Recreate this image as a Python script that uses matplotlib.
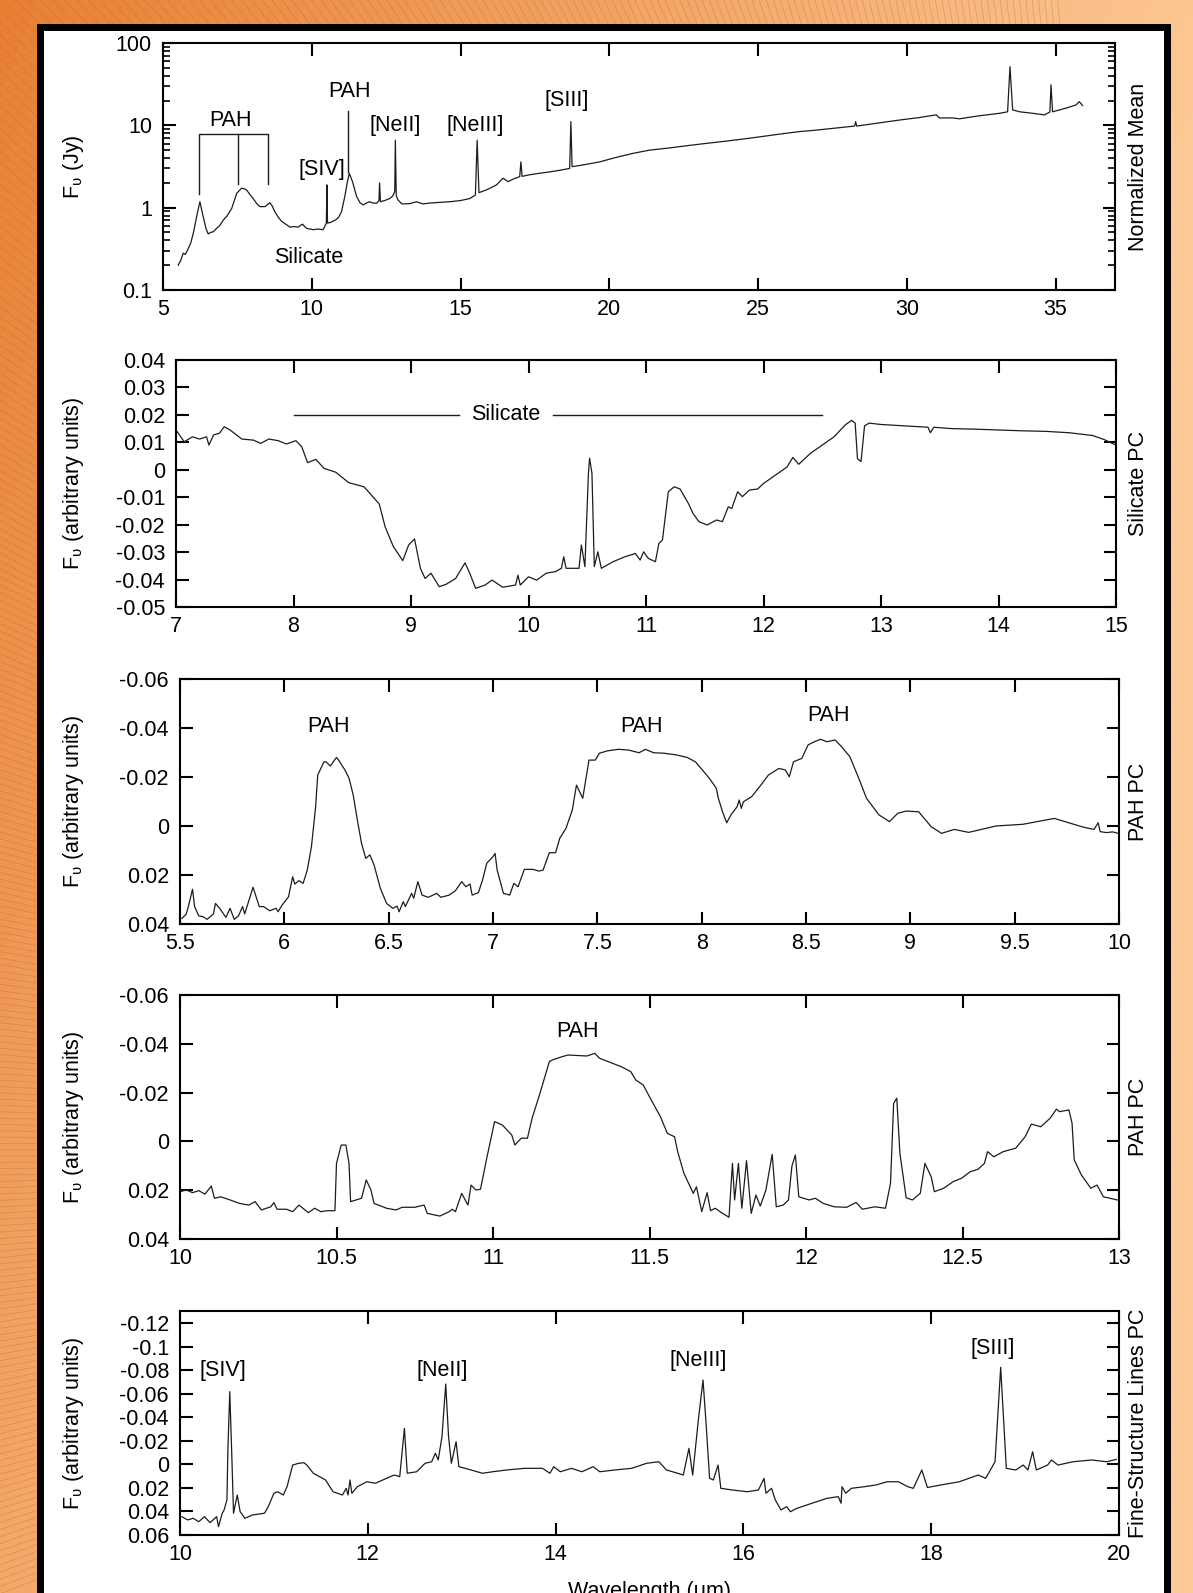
# =====================================================
# Mid-IR spectrum: mean spectrum and principal components
# =====================================================

import numpy as np
import matplotlib
matplotlib.use("Agg")
import matplotlib.pyplot as plt
from matplotlib.patches import Rectangle
from matplotlib.collections import LineCollection
from matplotlib.ticker import NullLocator, LogLocator

plt.rcParams["font.family"] = ["Liberation Sans", "DejaVu Sans"]
plt.rcParams["mathtext.default"] = "regular"

W, H = 1193, 1593
FS = 15.5
LINE = "#1c1c1c"

# -----------------------------------------------------
# Data
# -----------------------------------------------------

# Normalized mean spectrum (Jy)
mean_wl = [5.51, 5.60, 5.68, 5.75, 5.85, 5.93, 6.02, 6.13, 6.24, 6.35, 6.45, 6.52, 6.60, 6.69,
           6.80, 6.90, 7.03, 7.15, 7.31, 7.48, 7.64, 7.72, 7.81, 7.92, 8.03, 8.15, 8.26, 8.43,
           8.59, 8.67, 8.76, 8.88, 8.99, 9.10, 9.27, 9.40, 9.54, 9.62, 9.69, 9.76, 9.83, 10.05,
           10.20, 10.38, 10.46, 10.49, 10.51, 10.53, 10.62, 10.80, 10.90, 11.00, 11.11, 11.18,
           11.26, 11.37, 11.51, 11.62, 11.73, 11.84, 11.95, 12.05, 12.18, 12.26, 12.28, 12.31,
           12.45, 12.62, 12.72, 12.79, 12.81, 12.84, 12.90, 13.03, 13.30, 13.52, 13.74, 14.00,
           14.30, 14.64, 15.00, 15.31, 15.50, 15.56, 15.62, 15.90, 16.21, 16.43, 16.60, 16.80,
           16.99, 17.03, 17.07, 17.30, 17.66, 18.00, 18.35, 18.67, 18.71, 18.75, 19.00, 19.35,
           19.68, 20.20, 20.80, 21.36, 22.00, 22.60, 23.20, 23.80, 24.40, 25.00, 25.70, 26.40,
           26.90, 27.52, 28.00, 28.25, 28.28, 28.32, 29.00, 29.76, 30.40, 30.99, 31.10, 31.55,
           31.77, 32.40, 33.12, 33.39, 33.47, 33.56, 33.80, 34.23, 34.63, 34.81, 34.85, 34.90,
           35.36, 35.69, 35.80, 35.91]
mean_flux = [0.20, 0.23, 0.28, 0.27, 0.32, 0.37, 0.49, 0.78, 1.18, 0.78, 0.55, 0.48, 0.50, 0.51,
             0.56, 0.60, 0.71, 0.79, 0.98, 1.50, 1.72, 1.70, 1.64, 1.45, 1.29, 1.12, 1.03, 1.03,
             1.15, 1.05, 0.89, 0.76, 0.68, 0.64, 0.58, 0.59, 0.58, 0.61, 0.63, 0.59, 0.56, 0.54,
             0.55, 0.54, 0.62, 0.65, 1.89, 0.65, 0.66, 0.71, 0.76, 0.89, 1.36, 1.90,
             2.62, 2.07, 1.36, 1.15, 1.08, 1.14, 1.18, 1.14, 1.13, 1.22, 2.00, 1.18,
             1.22, 1.29, 1.38, 1.57, 6.6, 1.40, 1.24, 1.11, 1.12, 1.18, 1.11, 1.14,
             1.16, 1.18, 1.22, 1.29, 1.42, 6.6, 1.52, 1.66, 1.89, 2.28, 2.07, 2.25,
             2.38, 3.6, 2.40, 2.50, 2.62, 2.72, 2.85, 3.00, 11.1, 3.15, 3.25, 3.42,
             3.60, 4.05, 4.57, 5.00, 5.30, 5.65, 6.00, 6.35, 6.75, 7.20, 7.80, 8.40,
             8.70, 9.20, 9.60, 9.80, 11.1, 9.80, 10.6, 11.6, 12.4, 13.4, 12.3, 12.3,
             12.0, 13.0, 14.0, 14.6, 51.6, 15.4, 14.6, 14.0, 13.4, 14.5, 31.0, 14.6,
             16.2, 17.7, 19.4, 17.4]

# Silicate principal component
sil_wl = [7.01, 7.07, 7.14, 7.20, 7.26, 7.28, 7.32, 7.37, 7.41, 7.46, 7.56, 7.66, 7.72, 7.79,
          7.87, 7.94, 8.02, 8.07, 8.12, 8.19, 8.26, 8.36, 8.47, 8.60, 8.65, 8.73, 8.78, 8.85,
          8.93, 8.98, 9.03, 9.08, 9.12, 9.17, 9.24, 9.30, 9.38, 9.46, 9.50, 9.55, 9.63, 9.69,
          9.78, 9.89, 9.91, 9.93, 10.00, 10.07, 10.15, 10.23, 10.28, 10.30, 10.32, 10.39, 10.43,
          10.45, 10.48, 10.51, 10.52, 10.54, 10.56, 10.59, 10.62, 10.72, 10.82, 10.91, 10.95,
          10.98, 11.02, 11.08, 11.11, 11.14, 11.19, 11.24, 11.29, 11.36, 11.40, 11.45, 11.52,
          11.60, 11.65, 11.70, 11.73, 11.78, 11.82, 11.88, 11.95, 12.00, 12.10, 12.20, 12.25,
          12.30, 12.40, 12.50, 12.60, 12.70, 12.75, 12.78, 12.80, 12.83, 12.86, 12.90, 13.00,
          13.20, 13.40, 13.42, 13.45, 13.60, 13.80, 14.00, 14.20, 14.40, 14.60, 14.80, 14.90,
          15.00]
sil_flux = [0.0139, 0.0102, 0.0120, 0.0112, 0.0120, 0.0090, 0.0127, 0.0133, 0.0157, 0.0145,
            0.0112, 0.0108, 0.0096, 0.0112, 0.0106, 0.0094, 0.0106, 0.0084, 0.0026, 0.0038,
            0.0005, -0.0009, -0.0047, -0.0062, -0.0086, -0.0125, -0.0208, -0.0280, -0.0331,
            -0.0274, -0.0252, -0.0359, -0.0396, -0.0377, -0.0426, -0.0417, -0.0396, -0.0339,
            -0.0377, -0.0432, -0.0420, -0.0402, -0.0428, -0.0420, -0.0384, -0.0420, -0.0390,
            -0.0402, -0.0377, -0.0371, -0.0359, -0.0317, -0.0359, -0.0359, -0.0359, -0.0274,
            -0.0353, -0.0013, 0.0042, -0.0013, -0.0353, -0.0299, -0.0359, -0.0335, -0.0317,
            -0.0305, -0.0329, -0.0299, -0.0323, -0.0335, -0.0268, -0.0256, -0.0080, -0.0062,
            -0.0070, -0.0122, -0.0159, -0.0189, -0.0201, -0.0183, -0.0189, -0.0135, -0.0141,
            -0.0080, -0.0098, -0.0074, -0.0070, -0.0050, -0.0020, 0.0010, 0.0045, 0.0020,
            0.0060, 0.0090, 0.0120, 0.0165, 0.0180, 0.0170, 0.0040, 0.0030, 0.0160, 0.0170,
            0.0165, 0.0160, 0.0155, 0.0135, 0.0155, 0.0150, 0.0148, 0.0145, 0.0142, 0.0140,
            0.0135, 0.0125, 0.0110, 0.0090]

# PAH principal component, 5.5-10 um
pah1_wl = [5.51, 5.53, 5.54, 5.56, 5.57, 5.59, 5.61, 5.63, 5.66, 5.67, 5.69, 5.72, 5.74, 5.76,
           5.78, 5.80, 5.81, 5.85, 5.88, 5.90, 5.93, 5.96, 5.97, 5.99, 6.02, 6.04, 6.05, 6.07,
           6.09, 6.11, 6.13, 6.15, 6.16, 6.19, 6.20, 6.22, 6.25, 6.26, 6.29, 6.31, 6.33, 6.35,
           6.37, 6.39, 6.41, 6.43, 6.46, 6.49, 6.52, 6.54, 6.55, 6.57, 6.58, 6.61, 6.62, 6.64,
           6.66, 6.69, 6.73, 6.75, 6.79, 6.82, 6.85, 6.87, 6.89, 6.90, 6.93, 6.95, 6.97, 7.00,
           7.01, 7.02, 7.05, 7.08, 7.10, 7.12, 7.15, 7.19, 7.22, 7.24, 7.27, 7.30, 7.32, 7.35,
           7.38, 7.40, 7.43, 7.46, 7.49, 7.51, 7.55, 7.60, 7.65, 7.70, 7.73, 7.77, 7.82, 7.88,
           7.93, 7.97, 8.01, 8.04, 8.07, 8.08, 8.10, 8.12, 8.14, 8.17, 8.18, 8.19, 8.20, 8.24,
           8.28, 8.32, 8.37, 8.40, 8.42, 8.44, 8.48, 8.51, 8.54, 8.57, 8.60, 8.64, 8.67, 8.71,
           8.75, 8.79, 8.85, 8.90, 8.94, 8.98, 9.04, 9.10, 9.15, 9.21, 9.28, 9.41, 9.54, 9.69,
           9.83, 9.88, 9.90, 9.91, 9.94, 9.97, 9.995]
pah1_flux = [0.0377, 0.0359, 0.0329, 0.0258, 0.0329, 0.0367, 0.0370, 0.0381, 0.0359, 0.0316,
             0.0336, 0.0373, 0.0336, 0.0381, 0.0367, 0.0329, 0.0359, 0.0250, 0.0329, 0.0329,
             0.0346, 0.0336, 0.0350, 0.0322, 0.0289, 0.0207, 0.0237, 0.0223, 0.0234, 0.0180,
             0.0084, -0.0079, -0.0208, -0.0262, -0.0262, -0.0245, -0.0280, -0.0269, -0.0229,
             -0.0195, -0.0127, -0.0024, 0.0071, 0.0132, 0.0118, 0.0159, 0.0254, 0.0316, 0.0336,
             0.0327, 0.0350, 0.0309, 0.0329, 0.0275, 0.0295, 0.0227, 0.0282, 0.0291, 0.0275,
             0.0291, 0.0282, 0.0264, 0.0227, 0.0248, 0.0237, 0.0282, 0.0272, 0.0220, 0.0152,
             0.0125, 0.0112, 0.0180, 0.0275, 0.0282, 0.0234, 0.0248, 0.0177, 0.0177, 0.0184,
             0.0180, 0.0109, 0.0109, 0.0050, 0.0009, -0.0065, -0.0167, -0.0113, -0.0269,
             -0.0269, -0.0297, -0.0307, -0.0313, -0.0310, -0.0299, -0.0313, -0.0299, -0.0297,
             -0.0290, -0.0280, -0.0262, -0.0222, -0.0191, -0.0154, -0.0113, -0.0058, -0.0013,
             -0.0045, -0.0079, -0.0106, -0.0072, -0.0099, -0.0120, -0.0163, -0.0208, -0.0235,
             -0.0229, -0.0201, -0.0262, -0.0276, -0.0331, -0.0344, -0.0354, -0.0344, -0.0351,
             -0.0324, -0.0283, -0.0201, -0.0113, -0.0045, -0.0018, -0.0052, -0.0061, -0.0058,
             0.0003, 0.0030, 0.0014, 0.0026, 0.0000, -0.0007, -0.0031, 0.0005, 0.0014, -0.0013,
             0.0023, 0.0027, 0.0024, 0.0030]

# PAH principal component, 10-13 um
pah2_wl = [10.00, 10.02, 10.04, 10.06, 10.08, 10.10, 10.11, 10.13, 10.16, 10.19, 10.22, 10.24,
           10.26, 10.29, 10.30, 10.31, 10.34, 10.36, 10.38, 10.41, 10.43, 10.45, 10.47, 10.495,
           10.50, 10.515, 10.53, 10.54, 10.545, 10.57, 10.58, 10.595, 10.61, 10.62, 10.66,
           10.69, 10.71, 10.75, 10.78, 10.79, 10.83, 10.86, 10.87, 10.88, 10.90, 10.92, 10.93,
           10.945, 10.96, 10.98, 11.005, 11.03, 11.06, 11.07, 11.09, 11.11, 11.125, 11.15,
           11.18, 11.19, 11.22, 11.24, 11.30, 11.325, 11.34, 11.376, 11.41, 11.44, 11.456,
           11.48, 11.50, 11.535, 11.557, 11.58, 11.59, 11.61, 11.64, 11.65, 11.667, 11.684,
           11.695, 11.71, 11.73, 11.754, 11.765, 11.772, 11.784, 11.795, 11.81, 11.825, 11.84,
           11.854, 11.872, 11.892, 11.905, 11.927, 11.944, 11.955, 11.966, 11.977, 12.01, 12.03,
           12.055, 12.09, 12.13, 12.16, 12.18, 12.22, 12.254, 12.27, 12.28, 12.29, 12.30, 12.32,
           12.34, 12.365, 12.38, 12.40, 12.41, 12.44, 12.47, 12.497, 12.525, 12.55, 12.57, 12.58,
           12.60, 12.63, 12.67, 12.70, 12.72, 12.75, 12.78, 12.80, 12.81, 12.84, 12.85, 12.857,
           12.88, 12.91, 12.93, 12.95, 12.995]
pah2_flux = [0.0206, 0.0199, 0.0210, 0.0202, 0.0216, 0.0183, 0.0233, 0.0227, 0.0240, 0.0254,
             0.0261, 0.0247, 0.0281, 0.0268, 0.0251, 0.0278, 0.0278, 0.0288, 0.0261, 0.0292,
             0.0274, 0.0288, 0.0284, 0.0284, 0.0090, 0.0015, 0.0015, 0.0090, 0.0247, 0.0237,
             0.0233, 0.0158, 0.0199, 0.0254, 0.0274, 0.0281, 0.0270, 0.0270, 0.0261, 0.0295,
             0.0306, 0.0288, 0.0278, 0.0288, 0.0213, 0.0261, 0.0179, 0.0199, 0.0196, 0.0069,
             -0.0081, -0.0067, -0.0026, 0.0015, -0.0013, -0.0013, -0.0095, -0.0197, -0.0327,
             -0.0334, -0.0347, -0.0354, -0.0350, -0.0361, -0.0341, -0.0323, -0.0306, -0.0286,
             -0.0252, -0.0231, -0.0183, -0.0101, -0.0033, -0.0019, 0.0042, 0.0131, 0.0213,
             0.0186, 0.0288, 0.0210, 0.0284, 0.0274, 0.0292, 0.0311, 0.0090, 0.0240, 0.0090,
             0.0274, 0.0079, 0.0295, 0.0220, 0.0265, 0.0199, 0.0053, 0.0268, 0.0261, 0.0240,
             0.0101, 0.0056, 0.0227, 0.0240, 0.0233, 0.0254, 0.0268, 0.0270, 0.0250, 0.0278,
             0.0268, 0.0274, 0.0172, -0.0156, -0.0177, 0.0049, 0.0231, 0.0240, 0.0213, 0.0090,
             0.0145, 0.0206, 0.0192, 0.0165, 0.0151, 0.0124, 0.0114, 0.0090, 0.0042, 0.0063,
             0.0042, 0.0028, -0.0019, -0.0071, -0.0060, -0.0095, -0.0132, -0.0122, -0.0129,
             -0.0074, 0.0076, 0.0138, 0.0192, 0.0179, 0.0227, 0.0240]

# Fine-structure lines principal component
fsl_wl = [10.02, 10.08, 10.14, 10.20, 10.26, 10.32, 10.39, 10.41, 10.45, 10.47, 10.50, 10.51,
          10.53, 10.55, 10.57, 10.61, 10.64, 10.69, 10.77, 10.90, 10.94, 11.00, 11.04, 11.10,
          11.14, 11.20, 11.26, 11.32, 11.35, 11.42, 11.55, 11.63, 11.73, 11.77, 11.79, 11.81,
          11.83, 11.89, 11.99, 12.08, 12.16, 12.28, 12.34, 12.39, 12.42, 12.52, 12.61, 12.68,
          12.72, 12.75, 12.79, 12.83, 12.86, 12.89, 12.94, 12.97, 13.10, 13.22, 13.33, 13.48,
          13.67, 13.86, 13.94, 13.98, 14.05, 14.17, 14.28, 14.40, 14.47, 14.63, 14.81, 14.97,
          15.10, 15.18, 15.30, 15.36, 15.42, 15.46, 15.52, 15.57, 15.60, 15.64, 15.68, 15.73,
          15.76, 15.88, 16.04, 16.16, 16.22, 16.24, 16.30, 16.34, 16.40, 16.46, 16.50, 16.57,
          16.73, 16.89, 17.01, 17.04, 17.05, 17.09, 17.15, 17.29, 17.41, 17.53, 17.65, 17.75,
          17.81, 17.90, 17.96, 18.10, 18.30, 18.50, 18.58, 18.68, 18.74, 18.80, 18.90, 18.98,
          19.03, 19.08, 19.12, 19.24, 19.28, 19.35, 19.51, 19.71, 19.87, 19.97]
fsl_flux = [0.0444, 0.0472, 0.0458, 0.0487, 0.0444, 0.0495, 0.0444, 0.0529, 0.0415, 0.0387,
            0.0300, -0.0123, -0.0619, -0.0120, 0.0415, 0.0260, 0.0400, 0.0458, 0.0430, 0.0415,
            0.0359, 0.0245, 0.0232, 0.0260, 0.0189, 0.0005, -0.0009, -0.0015, 0.0005, 0.0075,
            0.0132, 0.0232, 0.0260, 0.0203, 0.0260, 0.0132, 0.0245, 0.0189, 0.0147, 0.0160,
            0.0132, 0.0090, 0.0104, -0.0307, 0.0075, 0.0062, -0.0010, -0.0023, -0.0095, -0.0038,
            -0.0236, -0.0684, -0.0236, -0.0010, -0.0193, 0.0019, 0.0047, 0.0075, 0.0062, 0.0047,
            0.0033, 0.0033, 0.0075, 0.0019, 0.0062, 0.0033, 0.0062, 0.0019, 0.0062, 0.0047,
            0.0033, -0.0010, -0.0023, 0.0047, 0.0075, 0.0090, -0.0137, 0.0090, -0.0378, -0.0718,
            -0.0378, 0.0118, 0.0132, 0.0005, 0.0203, 0.0217, 0.0232, 0.0217, 0.0118, 0.0245,
            0.0203, 0.0302, 0.0387, 0.0359, 0.0402, 0.0373, 0.0330, 0.0288, 0.0274, 0.0330,
            0.0189, 0.0245, 0.0203, 0.0189, 0.0175, 0.0147, 0.0147, 0.0189, 0.0203, 0.0047,
            0.0196, 0.0175, 0.0147, 0.0090, 0.0118, -0.0023, -0.0826, 0.0033, 0.0047, 0.0005,
            0.0047, -0.0108, 0.0047, 0.0005, -0.0038, 0.0005, -0.0023, -0.0038, -0.0023, -0.0043]

# -----------------------------------------------------
# Figure and backdrop
# -----------------------------------------------------

fig = plt.figure(figsize=(W / 100, H / 100), dpi=100)

bg = fig.add_axes([0, 0, 1, 1], zorder=-10)
bg.set_xlim(0, W)
bg.set_ylim(H, 0)
bg.axis("off")

yy, xx = np.mgrid[0:1:200j, 0:1:160j]
t = np.clip(0.95 * xx + 0.55 * yy, 0, 1)[..., None]
dark = np.array([232, 128, 52]) / 255
light = np.array([253, 201, 150]) / 255
bg.imshow(dark + (light - dark) * t, extent=(0, W, H, 0), aspect="auto",
          interpolation="bilinear", zorder=0)

# fine rays across the orange border
cx, cy = 1150, 1150
angles = np.arange(np.radians(158.9), np.radians(265.5), 0.0055)
segs = [[(cx, cy), (cx + 2600 * np.cos(a), cy + 2600 * np.sin(a))] for a in angles]
bg.add_collection(LineCollection(segs, colors=[(0.72, 0.40, 0.18)], linewidths=0.5,
                                 alpha=0.4, zorder=1))

bg.add_patch(Rectangle((39.5, 27), 1166.5 - 39.5, 1700, facecolor="white",
                       edgecolor="black", linewidth=5.0, zorder=5))


def px_axes(left, top, right, bottom):
    return fig.add_axes([left / W, 1 - bottom / H, (right - left) / W, (bottom - top) / H])


def style(ax):
    for s in ax.spines.values():
        s.set_linewidth(1.5)
    ax.tick_params(which="major", direction="in", length=9, width=1.5, top=True,
                   right=True, labelsize=FS)
    ax.tick_params(which="minor", direction="in", length=5, width=1.2, top=True, right=True)
    ax.tick_params(axis="x", pad=6.5)
    ax.tick_params(axis="y", pad=8)


def side_labels(top, bottom, left_text, right_text):
    yc = 1 - (top + bottom) / 2 / H
    fig.text(73 / W, yc, left_text, rotation=90, ha="center", va="center", fontsize=FS)
    fig.text(1139 / W, yc, right_text, rotation=90, ha="center", va="center", fontsize=FS)


# -----------------------------------------------------
# 1. Normalized mean spectrum
# -----------------------------------------------------
ax1 = px_axes(163, 43, 1115, 290)
ax1.plot(mean_wl, mean_flux, color=LINE, lw=0.9)
ax1.set_yscale("log")
ax1.set_xlim(5, 37)
ax1.set_ylim(0.1, 100)
ax1.set_xticks(range(5, 40, 5))
ax1.set_yticks([0.1, 1, 10, 100])
ax1.set_yticklabels(["0.1", "1", "10", "100"])
ax1.yaxis.set_minor_locator(LogLocator(subs=np.arange(2, 10)))
ax1.yaxis.set_minor_formatter(plt.NullFormatter())
ax1.xaxis.set_minor_locator(NullLocator())
style(ax1)

ax1.plot([6.22, 6.22, 8.52, 8.52], [1.46, 7.8, 7.8, 1.92], color=LINE, lw=1.0)
ax1.plot([7.51, 7.51], [7.8, 1.92], color=LINE, lw=1.0)
ax1.plot([11.21, 11.21], [15, 2.73], color=LINE, lw=1.0)
ax1.text(7.28, 11.6, "PAH", ha="center", va="center", fontsize=FS)
ax1.text(11.28, 25.7, "PAH", ha="center", va="center", fontsize=FS)
ax1.text(10.33, 2.87, "[SIV]", ha="center", va="center", fontsize=FS)
ax1.text(12.82, 9.9, "[NeII]", ha="center", va="center", fontsize=FS)
ax1.text(15.50, 9.9, "[NeIII]", ha="center", va="center", fontsize=FS)
ax1.text(18.58, 20.0, "[SIII]", ha="center", va="center", fontsize=FS)
ax1.text(9.91, 0.247, "Silicate", ha="center", va="center", fontsize=FS)
side_labels(43, 290, "F$_{υ}$ (Jy)", "Normalized Mean")

# -----------------------------------------------------
# 2. Silicate PC
# -----------------------------------------------------
ax2 = px_axes(176, 360, 1116, 607)
ax2.plot(sil_wl, sil_flux, color=LINE, lw=0.9)
ax2.set_xlim(7, 15)
ax2.set_ylim(-0.05, 0.04)
ax2.set_xticks(range(7, 16))
sil_ticks = [-0.05, -0.04, -0.03, -0.02, -0.01, 0, 0.01, 0.02, 0.03, 0.04]
ax2.set_yticks(sil_ticks)
ax2.set_yticklabels(["-0.05", "-0.04", "-0.03", "-0.02", "-0.01", "0",
                     "0.01", "0.02", "0.03", "0.04"])
style(ax2)
ax2.plot([8.0, 9.41], [0.02, 0.02], color=LINE, lw=1.0)
ax2.plot([10.21, 12.5], [0.02, 0.02], color=LINE, lw=1.0)
ax2.text(9.81, 0.0203, "Silicate", ha="center", va="center", fontsize=FS)
side_labels(360, 607, "F$_{υ}$ (arbitrary units)", "Silicate PC")

pc_ticks = [-0.06, -0.04, -0.02, 0, 0.02, 0.04]
pc_labels = ["-0.06", "-0.04", "-0.02", "0", "0.02", "0.04"]

# -----------------------------------------------------
# 3. PAH PC, 5.5-10 um
# -----------------------------------------------------
ax3 = px_axes(180, 679, 1119, 924)
ax3.plot(pah1_wl, pah1_flux, color=LINE, lw=0.9)
ax3.set_xlim(5.5, 10)
ax3.set_ylim(0.04, -0.06)
ax3.set_xticks(np.arange(5.5, 10.01, 0.5))
ax3.set_xticklabels(["5.5", "6", "6.5", "7", "7.5", "8", "8.5", "9", "9.5", "10"])
ax3.set_yticks(pc_ticks)
ax3.set_yticklabels(pc_labels)
style(ax3)
ax3.text(6.21, -0.0405, "PAH", ha="center", va="center", fontsize=FS)
ax3.text(7.71, -0.0405, "PAH", ha="center", va="center", fontsize=FS)
ax3.text(8.61, -0.0453, "PAH", ha="center", va="center", fontsize=FS)
side_labels(679, 924, "F$_{υ}$ (arbitrary units)", "PAH PC")

# -----------------------------------------------------
# 4. PAH PC, 10-13 um
# -----------------------------------------------------
ax4 = px_axes(180, 995, 1119, 1239)
ax4.plot(pah2_wl, pah2_flux, color=LINE, lw=0.9)
ax4.set_xlim(10, 13)
ax4.set_ylim(0.04, -0.06)
ax4.set_xticks(np.arange(10, 13.01, 0.5))
ax4.set_xticklabels(["10", "10.5", "11", "11.5", "12", "12.5", "13"])
ax4.set_yticks(pc_ticks)
ax4.set_yticklabels(pc_labels)
style(ax4)
ax4.text(11.27, -0.045, "PAH", ha="center", va="center", fontsize=FS)
side_labels(995, 1239, "F$_{υ}$ (arbitrary units)", "PAH PC")

# -----------------------------------------------------
# 5. Fine-structure lines PC
# -----------------------------------------------------
ax5 = px_axes(180, 1311, 1119, 1535)
ax5.plot(fsl_wl, fsl_flux, color=LINE, lw=0.9)
ax5.set_xlim(10, 20)
ax5.set_ylim(0.06, -0.1305)
ax5.set_xticks(range(10, 21, 2))
fsl_ticks = [-0.12, -0.1, -0.08, -0.06, -0.04, -0.02, 0, 0.02, 0.04, 0.06]
ax5.set_yticks(fsl_ticks)
ax5.set_yticklabels(["-0.12", "-0.1", "-0.08", "-0.06", "-0.04", "-0.02", "0",
                     "0.02", "0.04", "0.06"])
style(ax5)
ax5.text(10.46, -0.0803, "[SIV]", ha="center", va="center", fontsize=FS)
ax5.text(12.79, -0.0803, "[NeII]", ha="center", va="center", fontsize=FS)
ax5.text(15.52, -0.0888, "[NeIII]", ha="center", va="center", fontsize=FS)
ax5.text(18.65, -0.0988, "[SIII]", ha="center", va="center", fontsize=FS)
side_labels(1311, 1535, "F$_{υ}$ (arbitrary units)", "Fine-Structure Lines PC")

fig.text(649 / W, 1 - 1581 / H, "Wavelength (μm)", ha="center", va="top", fontsize=FS)

fig.savefig("out.png", dpi=100)
